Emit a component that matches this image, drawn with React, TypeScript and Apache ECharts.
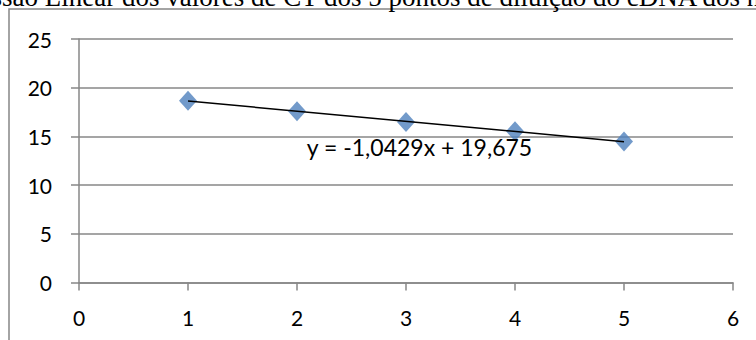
import React, { useEffect, useRef } from "react";
import * as echarts from "echarts";

// Diluição (ponto) e valores de CT medidos
const dilutionPoints = [1, 2, 3, 4, 5];
const ctValues = [18.66, 17.58, 16.49, 15.53, 14.47];

// Coeficientes da linha de tendência (regressão linear)
const slope = -1.0429;
const intercept = 19.675;
const equationLabel = "y = -1,0429x + 19,675";
const equationAnchor = [2.09, 13.95];

const titleText =
  "Regressão Linear dos valores de CT dos 5 pontos de diluição do cDNA dos n";

const xTicks = { min: 0, max: 6, interval: 1 };
const yTicks = { min: 0, max: 25, interval: 5 };

const axisGray = "#878787";
const labelFont = "Lato";

export default function App() {
  const ref = useRef<HTMLDivElement>(null);

  useEffect(() => {
    if (!ref.current) return;
    const chart = echarts.init(ref.current, null, { renderer: "svg" });

    const scatterData = dilutionPoints.map((x, i) => [x, ctValues[i]]);
    const xFirst = dilutionPoints[0];
    const xLast = dilutionPoints[dilutionPoints.length - 1];
    const trendData = [
      [xFirst, slope * xFirst + intercept],
      [xLast, slope * xLast + intercept],
    ];

    const axisLabel = {
      color: "#000",
      fontFamily: labelFont,
      fontSize: 21,
    };

    chart.setOption({
      animation: false,
      backgroundColor: "#fff",
      grid: { left: 79, right: 23, top: 39, bottom: 57.5, containLabel: false },
      xAxis: {
        type: "value",
        ...xTicks,
        axisLine: { show: true, onZero: false, lineStyle: { color: axisGray, width: 1.5 } },
        axisTick: { show: true, length: 8, inside: false, lineStyle: { color: axisGray, width: 1.5 } },
        splitLine: { show: false },
        axisLabel: { ...axisLabel, margin: 24 },
      },
      yAxis: {
        type: "value",
        ...yTicks,
        axisLine: { show: true, lineStyle: { color: axisGray, width: 1.5 } },
        axisTick: { show: true, length: 8, inside: false, lineStyle: { color: axisGray, width: 1.5 } },
        splitLine: { show: true, lineStyle: { color: axisGray, width: 1.5 } },
        axisLabel: { ...axisLabel, margin: 27 },
      },
      series: [
        {
          type: "scatter",
          data: scatterData,
          symbol: "diamond",
          symbolSize: [18, 20],
          itemStyle: { color: "#4F81BD" },
          z: 2,
        },
        {
          type: "line",
          data: trendData,
          showSymbol: false,
          symbol: "none",
          lineStyle: { color: "#000", width: 1.5 },
          z: 3,
        },
      ],
    });

    const anchor = chart.convertToPixel({ gridIndex: 0 }, equationAnchor) as number[];

    chart.setOption({
      graphic: [
        {
          type: "rect",
          shape: { x: 9, y: 9, width: 800, height: 400 },
          style: { fill: "none", stroke: axisGray, lineWidth: 1.5 },
          silent: true,
          z: 0,
        },
        {
          type: "text",
          x: -73,
          y: -3,
          style: {
            text: titleText,
            fill: "#000",
            font: '27px "Liberation Serif", "Times New Roman", serif',
            align: "left",
            verticalAlign: "middle",
          },
          z: 10,
        },
        {
          type: "text",
          x: anchor[0],
          y: anchor[1],
          style: {
            text: equationLabel,
            fill: "#000",
            font: `23px ${labelFont}`,
            align: "left",
            verticalAlign: "middle",
          },
          z: 10,
        },
      ],
    });

    return () => chart.dispose();
  }, []);

  return (
    <div
      ref={ref}
      style={{ position: "fixed", left: 0, top: 0, width: 756, height: 340 }}
    />
  );
}
